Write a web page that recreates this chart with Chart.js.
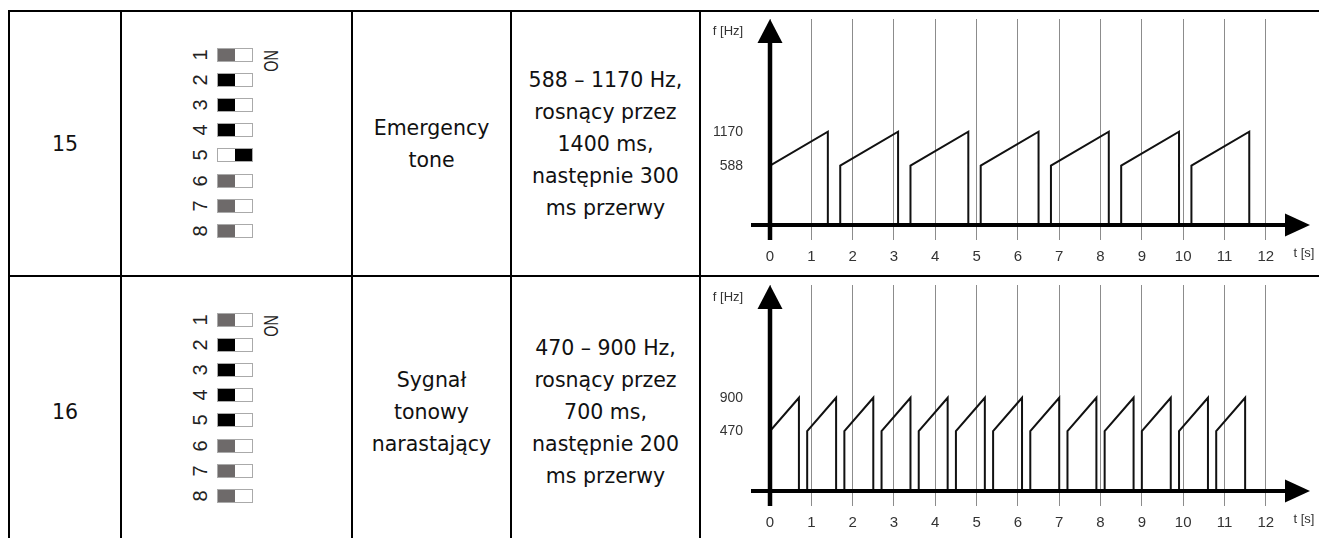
<!DOCTYPE html>
<html>
<head>
<meta charset="utf-8">
<script src="https://cdn.jsdelivr.net/npm/chart.js@4.4.1/dist/chart.umd.min.js"></script>
<style>
html, body { margin: 0; padding: 0; background: #fff; }
body { width: 1319px; height: 538px; overflow: hidden; position: relative; font-family: "DejaVu Sans", Verdana, sans-serif; }
.cell { position: absolute; box-sizing: border-box; border: 2px solid #000; display: flex; align-items: center; justify-content: center; text-align: center; font-size: 20.5px; line-height: 32px; color: #111; }
.plot { position: absolute; }
.digit { position: absolute; width: 20px; height: 20px; margin: -10px 0 0 -10px; line-height: 20px; text-align: center; font: 20px "Liberation Sans", Arial, sans-serif; color: #222; transform: rotate(-90deg); }
.on { position: absolute; width: 40px; height: 20px; margin: -10px 0 0 -20px; line-height: 20px; text-align: center; font: 21px "Liberation Sans", Arial, sans-serif; color: #222; transform: rotate(-90deg) scaleX(0.68); }
.sw { position: absolute; box-sizing: border-box; width: 36px; height: 14px; border: 1px solid #aaa; }
.sw i { position: absolute; top: 0; width: 17px; height: 12px; }
</style>
</head>
<body>
<div id="table"></div>
<script>
// tone 15: 588 -> 1170 Hz rising for 1400 ms, then 300 ms pause
const emergencyT  = [0, 0, 1.4, 1.4, 1.7, 1.7, 3.1, 3.1, 3.4, 3.4, 4.8, 4.8, 5.1, 5.1, 6.5, 6.5,
                     6.8, 6.8, 8.2, 8.2, 8.5, 8.5, 9.9, 9.9, 10.2, 10.2, 11.6, 11.6];
const emergencyHz = [0, 588, 1170, 0, 0, 588, 1170, 0, 0, 588, 1170, 0, 0, 588, 1170, 0,
                     0, 588, 1170, 0, 0, 588, 1170, 0, 0, 588, 1170, 0];
const emergencyLevels = [588, 1170];

// tone 16: 470 -> 900 Hz rising for 700 ms, then 200 ms pause
const risingT  = [0, 0, 0.7, 0.7, 0.9, 0.9, 1.6, 1.6, 1.8, 1.8, 2.5, 2.5, 2.7, 2.7, 3.4, 3.4,
                  3.6, 3.6, 4.3, 4.3, 4.5, 4.5, 5.2, 5.2, 5.4, 5.4, 6.1, 6.1, 6.3, 6.3, 7.0, 7.0,
                  7.2, 7.2, 7.9, 7.9, 8.1, 8.1, 8.8, 8.8, 9.0, 9.0, 9.7, 9.7, 9.9, 9.9, 10.6, 10.6,
                  10.8, 10.8, 11.5, 11.5];
const risingHz = [0, 470, 900, 0, 0, 470, 900, 0, 0, 470, 900, 0, 0, 470, 900, 0,
                  0, 470, 900, 0, 0, 470, 900, 0, 0, 470, 900, 0, 0, 470, 900, 0,
                  0, 470, 900, 0, 0, 470, 900, 0, 0, 470, 900, 0, 0, 470, 900, 0,
                  0, 470, 900, 0];
const risingLevels = [470, 900];

const seconds = [0, 1, 2, 3, 4, 5, 6, 7, 8, 9, 10, 11, 12];

// DIP switch settings (1 = switched to ON side)
const dip15 = [0, 0, 0, 0, 1, 0, 0, 0];
const dip16 = [0, 0, 0, 0, 0, 0, 0, 0];
const knobColor = ['#6e6a6a', '#000', '#000', '#000', '#000', '#6e6a6a', '#6e6a6a', '#6e6a6a'];

// ---- table ----
const colEdge = [8, 120, 351, 510, 699, 1325];
const rowEdge = [10, 275, 546];
const rowText = [
  ['15', '', 'Emergency<br>tone', '588 – 1170 Hz,<br>rosnący przez<br>1400 ms,<br>następnie 300<br>ms przerwy', ''],
  ['16', '', 'Sygnał<br>tonowy<br>narastający', '470 – 900 Hz,<br>rosnący przez<br>700 ms,<br>następnie 200<br>ms przerwy', '']
];
const table = document.getElementById('table');
rowText.forEach((row, r) => {
  row.forEach((txt, c) => {
    const d = document.createElement('div');
    d.className = 'cell';
    d.style.left = colEdge[c] + 'px';
    d.style.top = rowEdge[r] + 'px';
    d.style.width = (colEdge[c + 1] - colEdge[c] + 2) + 'px';
    d.style.height = (rowEdge[r + 1] - rowEdge[r] + 2) + 'px';
    d.innerHTML = txt;
    table.appendChild(d);
  });
});

function drawDip(settings, top) {
  let html = '';
  settings.forEach((on, i) => {
    const y = top + 45 + i * 25.1;
    html += `<div class="digit" style="left:199px;top:${y}px">${i + 1}</div>`;
    html += `<div class="sw" style="left:217px;top:${y - 7}px"><i style="${on ? 'right' : 'left'}:0;background:${knobColor[i]}"></i></div>`;
  });
  html += `<div class="on" style="left:269px;top:${top + 51}px">ON</div>`;
  table.insertAdjacentHTML('beforeend', html);
}
drawDip(dip15, rowEdge[0]);
drawDip(dip16, rowEdge[1]);

// ---- charts ----
// log scale on which 0 Hz (silence) lies on the time axis
class ToneScale extends Chart.LogarithmicScale {
  parse(raw, index) {
    return raw === 0 ? 0 : super.parse(raw, index);
  }
  getPixelForValue(value) {
    return value === 0 ? this.getPixelForDecimal(0) : super.getPixelForValue(value);
  }
}
ToneScale.id = 'tone';
ToneScale.defaults = Chart.LogarithmicScale.defaults;
Chart.register(ToneScale);

const arrowAxes = {
  id: 'arrowAxes',
  afterDatasetsDraw(chart) {
    const { ctx, chartArea: a } = chart;
    const x0 = chart.scales.x.getPixelForValue(0);
    const yb = a.bottom;
    ctx.save();
    ctx.fillStyle = '#000';
    ctx.strokeStyle = '#000';
    ctx.lineWidth = 4.5;
    ctx.beginPath(); ctx.moveTo(x0, yb + 15); ctx.lineTo(x0, a.top + 20); ctx.stroke();
    ctx.beginPath(); ctx.moveTo(x0, a.top); ctx.lineTo(x0 - 12.5, a.top + 24); ctx.lineTo(x0 + 12.5, a.top + 24); ctx.closePath(); ctx.fill();
    ctx.lineWidth = 4;
    ctx.beginPath(); ctx.moveTo(x0 - 19, yb); ctx.lineTo(a.right - 20, yb); ctx.stroke();
    ctx.beginPath(); ctx.moveTo(a.right, yb); ctx.lineTo(a.right - 25, yb - 11.5); ctx.lineTo(a.right - 25, yb + 11.5); ctx.closePath(); ctx.fill();
    ctx.fillStyle = '#333';
    ctx.font = '13px "Liberation Sans", Arial, sans-serif';
    ctx.textAlign = 'center';
    ctx.textBaseline = 'middle';
    ctx.fillText('f [Hz]', x0 - 42, a.top + 12);
    ctx.fillText('t [s]', a.right - 6, yb + 28);
    ctx.restore();
  }
};

function makeChart(top, times, freqs, levels, yMin, yMax) {
  const canvas = document.createElement('canvas');
  canvas.className = 'plot';
  canvas.width = 618;
  canvas.height = 263;
  canvas.style.left = '701px';
  canvas.style.top = top + 'px';
  document.body.appendChild(canvas);
  const labelFont = { family: '"Liberation Sans", Arial, sans-serif', size: 15 };
  return new Chart(canvas, {
    type: 'line',
    data: {
      datasets: [{
        data: times.map((t, i) => ({ x: t, y: freqs[i] })),
        borderColor: '#111',
        borderWidth: 2,
        pointRadius: 0,
        tension: 0,
        fill: false
      }]
    },
    options: {
      responsive: false,
      animation: false,
      layout: { padding: { left: 0, top: 7, right: 9, bottom: 0 } },
      plugins: { legend: { display: false }, tooltip: { enabled: false } },
      scales: {
        x: {
          type: 'linear',
          min: 0,
          max: 13.07,
          afterBuildTicks: s => { s.ticks = seconds.map(v => ({ value: v })); },
          afterFit: s => { s.height = 50; s.paddingLeft = 0; s.paddingRight = 0; },
          grid: { color: '#8c8c8c', lineWidth: 1, tickLength: 15 },
          border: { display: false },
          ticks: { color: '#333', font: labelFont, padding: 8, maxRotation: 0, callback: v => v }
        },
        y: {
          type: 'tone',
          min: yMin,
          max: yMax,
          afterBuildTicks: s => { s.ticks = levels.map(v => ({ value: v })); },
          afterFit: s => { s.width = 69; s.paddingTop = 0; s.paddingBottom = 0; },
          grid: { display: false, drawTicks: false },
          border: { display: false },
          ticks: { color: '#333', font: { family: '"Liberation Sans", Arial, sans-serif', size: 14 }, padding: 27, callback: v => String(v) }
        }
      }
    },
    plugins: [arrowAxes]
  });
}

makeChart(rowEdge[0] + 2, emergencyT, emergencyHz, emergencyLevels, 177, 11450);
makeChart(rowEdge[1] + 3, risingT, risingHz, risingLevels, 146, 8110);
</script>
</body>
</html>
